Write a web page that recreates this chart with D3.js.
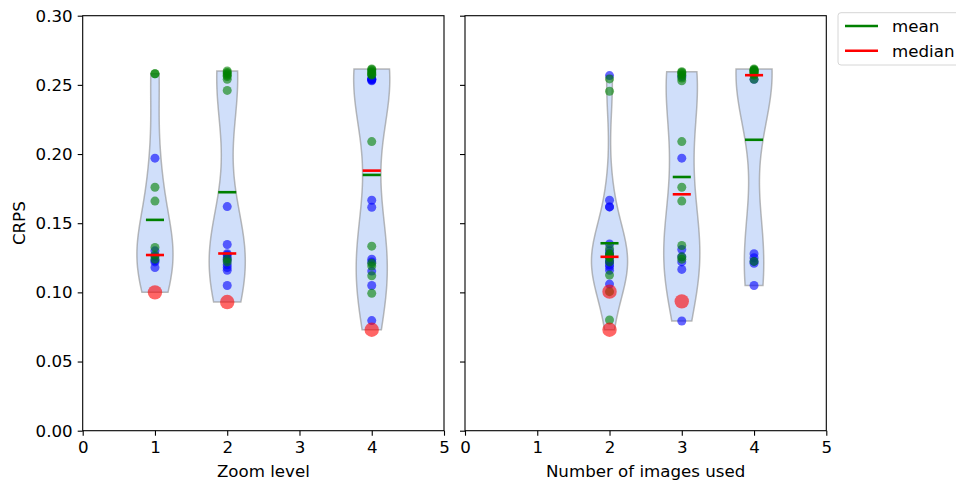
<!DOCTYPE html>
<html>
<head>
<meta charset="utf-8">
<title>CRPS violins</title>
<script src="https://d3js.org/d3.v7.min.js"></script>
<style>
  body { margin: 0; background: #fff; }
  svg text { font-family: "DejaVu Sans", sans-serif; font-size: 16.67px; fill: #000; }
  .axis path { display: none; }
  .axis line { stroke: #000; stroke-width: 1.1px; }
</style>
</head>
<body>
<script>
// ---- data ----
var xTicks = [0, 1, 2, 3, 4, 5];
var yTicks = [0, 0.05, 0.10, 0.15, 0.20, 0.25, 0.30];

// left panel: zoom level
var zoomLevels = [1, 2, 4];
var zoomBlue = [
  [0.197, 0.130, 0.126, 0.123, 0.122, 0.118],
  [0.162, 0.1346, 0.128, 0.127, 0.125, 0.123, 0.120, 0.118, 0.116, 0.105],
  [0.2545, 0.254, 0.254, 0.2535, 0.253, 0.1666, 0.1615, 0.124, 0.122, 0.1154, 0.105, 0.0796]
];
var zoomGreen = [
  [0.258, 0.258, 0.176, 0.166, 0.1325, 0.127, 0.124],
  [0.260, 0.259, 0.258, 0.257, 0.256, 0.254, 0.246, 0.124, 0.122],
  [0.2615, 0.261, 0.260, 0.259, 0.258, 0.2575, 0.257, 0.209, 0.1334, 0.121, 0.119, 0.112, 0.0993]
];
var zoomRed = [[0.100], [0.093], [0.073]];
var zoomMean = [0.1524, 0.1724, 0.1849];
var zoomMedian = [0.1270, 0.1281, 0.1880];

// right panel: number of images used
var imagesUsed = [2, 3, 4];
var imgBlue = [
  [0.2567, 0.1666, 0.1618, 0.1618, 0.135, 0.130, 0.128, 0.126, 0.123, 0.122, 0.120, 0.1185, 0.116, 0.106],
  [0.256, 0.197, 0.131, 0.1257, 0.122, 0.1166, 0.0793],
  [0.254, 0.128, 0.125, 0.1224, 0.121, 0.105]
];
var imgGreen = [
  [0.2543, 0.2454, 0.1317, 0.128, 0.127, 0.1257, 0.125, 0.122, 0.1125, 0.1005, 0.080],
  [0.2595, 0.259, 0.258, 0.257, 0.255, 0.253, 0.209, 0.176, 0.166, 0.1339, 0.1257, 0.124],
  [0.2615, 0.261, 0.2605, 0.260, 0.260, 0.259, 0.259, 0.258, 0.257, 0.254, 0.1224]
];
var imgRed = [[0.1005, 0.073], [0.0935], []];
var imgMean = [0.1355, 0.1834, 0.2103];
var imgMedian = [0.1257, 0.1709, 0.2570];

// ---- layout ----
var W = 361.3, H = 415;

var svg = d3.select("body").append("svg")
  .attr("width", 956)
  .attr("height", 482);

var x = d3.scaleLinear().domain([0, 5]).range([0, W]);
var y = d3.scaleLinear().domain([0, 0.3]).range([H, 0]);

// gaussian kde, scott's rule, scaled to half-width 0.25 like matplotlib
function kde(vals) {
  var n = vals.length,
      bw = d3.deviation(vals) * Math.pow(n, -0.2),
      lo = d3.min(vals), hi = d3.max(vals);
  var pts = d3.range(100).map(function(i) {
    var v = lo + (hi - lo) * i / 99;
    var d = d3.sum(vals, function(p) { var z = (v - p) / bw; return Math.exp(-0.5 * z * z); });
    return {v: v, d: d};
  });
  var m = d3.max(pts, function(p) { return p.d; });
  pts.forEach(function(p) { p.w = 0.25 * p.d / m; });
  return pts;
}

function drawPanel(left, positions, blue, green, red, means, medians, xlabel, yLabels) {
  var g = svg.append("g").attr("transform", "translate(" + left + ",15.7)");

  // violins
  positions.forEach(function(pos, i) {
    var pts = kde(blue[i].concat(green[i], red[i]));
    var area = d3.area()
      .y(function(d) { return y(d.v); })
      .x0(function(d) { return x(pos - d.w); })
      .x1(function(d) { return x(pos + d.w); });
    g.append("path")
      .datum(pts)
      .attr("d", area)
      .attr("fill", "cornflowerblue")
      .attr("fill-opacity", 0.3)
      .attr("stroke", "#8c8c8c")
      .attr("stroke-opacity", 0.6)
      .attr("stroke-width", 1.5);
  });

  // points
  [[blue, "blue", 4.5], [green, "green", 4.5], [red, "red", 7.2]].forEach(function(s) {
    positions.forEach(function(pos, i) {
      g.selectAll(null)
        .data(s[0][i]).enter()
        .append("circle")
        .attr("cx", x(pos))
        .attr("cy", function(d) { return y(d); })
        .attr("r", s[2])
        .attr("fill", s[1])
        .attr("fill-opacity", 0.6);
    });
  });

  // mean / median bars
  [[means, "green"], [medians, "red"]].forEach(function(s) {
    g.selectAll(null)
      .data(positions).enter()
      .append("line")
      .attr("x1", function(d) { return x(d - 0.125); })
      .attr("x2", function(d) { return x(d + 0.125); })
      .attr("y1", function(d, i) { return y(s[0][i]); })
      .attr("y2", function(d, i) { return y(s[0][i]); })
      .attr("stroke", s[1])
      .attr("stroke-width", 2.6);
  });

  // axes
  g.append("g")
    .attr("class", "axis")
    .attr("transform", "translate(0," + H + ")")
    .call(d3.axisBottom(x).tickValues(xTicks).tickSize(5).tickPadding(5).tickFormat(d3.format("d")));

  g.append("g")
    .attr("class", "axis")
    .call(d3.axisLeft(y).tickValues(yTicks).tickSize(5).tickPadding(5)
      .tickFormat(yLabels ? d3.format(".2f") : ""));

  g.selectAll(".axis text").style("font-size", "16.67px");

  g.append("rect")
    .attr("width", W)
    .attr("height", H)
    .attr("fill", "none")
    .attr("stroke", "#000")
    .attr("stroke-width", 1.1);

  g.append("text")
    .attr("x", W / 2)
    .attr("y", H + 46.8)
    .style("text-anchor", "middle")
    .text(xlabel);

  if (yLabels) {
    g.append("text")
      .attr("transform", "rotate(-90)")
      .attr("x", -H / 2)
      .attr("y", -58)
      .style("text-anchor", "middle")
      .text("CRPS");
  }
}

drawPanel(82.7, zoomLevels, zoomBlue, zoomGreen, zoomRed, zoomMean, zoomMedian, "Zoom level", true);
drawPanel(465, imagesUsed, imgBlue, imgGreen, imgRed, imgMean, imgMedian, "Number of images used", false);

// legend
var legendItems = ["mean", "median"];
var legendColors = ["green", "red"];
var lg = svg.append("g").attr("transform", "translate(838,12.7)");
lg.append("rect")
  .attr("width", 130)
  .attr("height", 52.3)
  .attr("rx", 3)
  .attr("fill", "#fff")
  .attr("fill-opacity", 0.8)
  .attr("stroke", "#d6d6d6");
legendItems.forEach(function(name, i) {
  lg.append("line")
    .attr("x1", 7).attr("x2", 40)
    .attr("y1", 13.3 + i * 24.7).attr("y2", 13.3 + i * 24.7)
    .attr("stroke", legendColors[i])
    .attr("stroke-width", 2.6);
  lg.append("text")
    .attr("x", 54)
    .attr("y", 19.3 + i * 24.7)
    .text(name);
});
</script>
</body>
</html>
